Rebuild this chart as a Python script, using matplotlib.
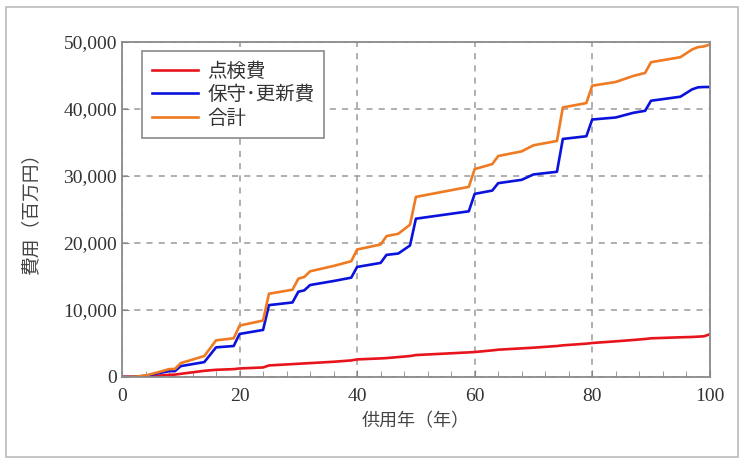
import numpy as np
import matplotlib
matplotlib.use("Agg")
import matplotlib.pyplot as plt
from matplotlib.patches import Rectangle
from matplotlib.ticker import MultipleLocator, FuncFormatter

# breakpoints (供用年, 百万円)
years = [0, 2, 4, 6, 8, 9, 10, 14, 16, 19, 20, 24, 25, 29, 30, 31, 32, 36, 39, 40,
         44, 45, 47, 49, 50, 59, 60, 63, 64, 68, 70, 74, 75, 79, 80, 84, 87, 89, 90,
         95, 97, 98, 99, 100]
inspection = [0, 0, 50, 150, 300, 330, 450, 900, 1050, 1150, 1250, 1400, 1700, 1900,
              1950, 2000, 2050, 2250, 2450, 2600, 2750, 2800, 2950, 3100, 3250, 3650,
              3700, 3950, 4050, 4250, 4350, 4600, 4700, 4950, 5050, 5300, 5500, 5650,
              5750, 5900, 5950, 6000, 6050, 6350]
maintenance = [0, 0, 150, 500, 850, 850, 1600, 2200, 4400, 4600, 6400, 7000, 10700,
               11100, 12700, 12900, 13700, 14300, 14800, 16400, 17000, 18200, 18400,
               19600, 23600, 24700, 27300, 27800, 28900, 29400, 30200, 30600, 35500,
               35900, 38400, 38700, 39400, 39700, 41200, 41800, 42900, 43200, 43250,
               43250]
total = np.array(inspection) + np.array(maintenance)

labels = ["点検費", "保守･更新費", "合計"]
colors = ["#e8141c", "#0a12dc", "#f07a22"]

jp = ["Noto Sans CJK JP", "DejaVu Sans"]
serif = "Liberation Serif"

fig = plt.figure(figsize=(7.44, 4.59), dpi=100)
ax = fig.add_axes([0.164, 0.179, 0.790, 0.730])

for y, lab, c in zip([inspection, maintenance, total], labels, colors):
    ax.plot(years, y, color=c, lw=1.9, label=lab)

ax.set_xlim(0, 100)
ax.set_ylim(0, 50000)
ax.xaxis.set_major_locator(MultipleLocator(20))
ax.xaxis.set_minor_locator(MultipleLocator(4))
ax.yaxis.set_major_locator(MultipleLocator(10000))
ax.yaxis.set_major_formatter(FuncFormatter(lambda v, p: f"{int(v):,}"))
ax.grid(True, which="major", ls=(0, (4, 4)), color="#9a9a9a", lw=1.1)
ax.tick_params(which="both", direction="in", color="#888888")
ax.tick_params(which="major", length=5)
ax.tick_params(which="minor", length=4, left=False)
for lab in ax.get_xticklabels() + ax.get_yticklabels():
    lab.set_fontfamily(serif)
    lab.set_fontsize(14)
    lab.set_color("#333333")
ax.tick_params(axis="x", pad=8)
for s in ax.spines.values():
    s.set_color("#8a8a8a")
    s.set_linewidth(1.3)

ax.set_xlabel("供用年（年）", family=jp, fontsize=13, color="#444444", labelpad=5)
ax.set_ylabel("費用（百万円）", family=jp, fontsize=13.5, color="#444444", labelpad=16)

leg = ax.legend(loc="upper left", bbox_to_anchor=(0.034, 0.972), prop={"family": jp, "size": 14},
                fancybox=False, framealpha=1, edgecolor="#8a8a8a", handlelength=2.4,
                handletextpad=0.45, borderpad=0.5, labelspacing=0.12, borderaxespad=0)
leg.get_frame().set_linewidth(1.2)
for t in leg.get_texts():
    t.set_color("#333333")

fig.patches.append(Rectangle((0.008, 0.004), 0.984, 0.98, transform=fig.transFigure,
                             fill=False, edgecolor="#bbbbbb", lw=1.2))

fig.savefig("out.png", dpi=100)
